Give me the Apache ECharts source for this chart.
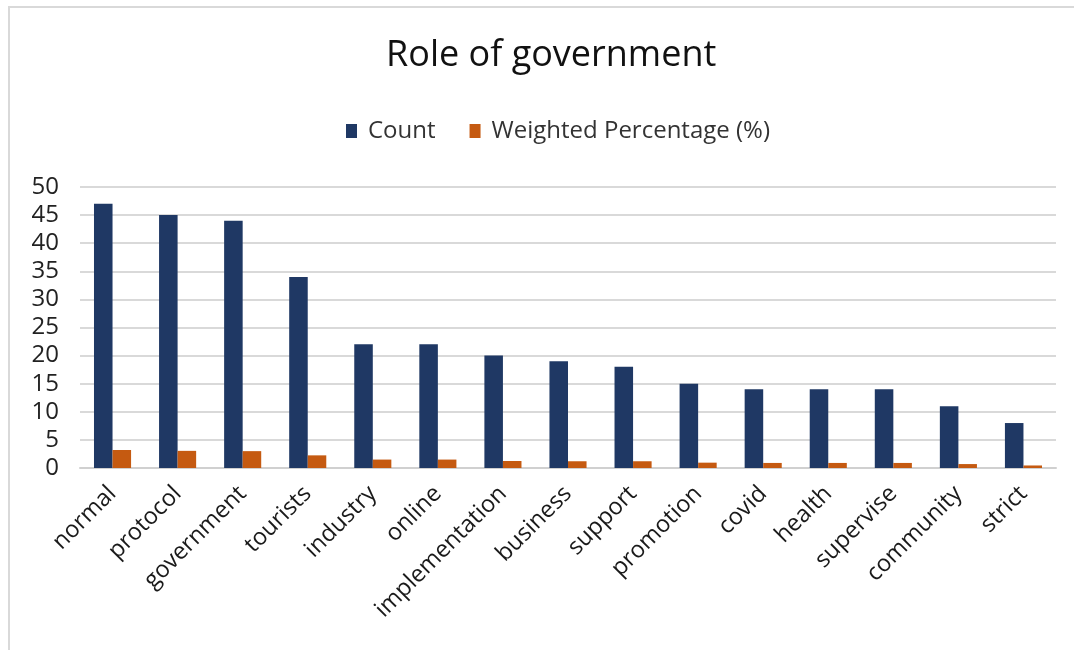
<!DOCTYPE html>
<html>
<head>
<meta charset="utf-8">
<script src="https://cdn.jsdelivr.net/npm/echarts@6/dist/echarts.min.js"></script>
<style>
html,body{margin:0;padding:0;background:#fff;}
#chart{width:1074px;height:650px;position:absolute;left:0;top:0;}
#frame{position:absolute;left:8px;top:6px;width:1080px;height:660px;border-left:2px solid #d9d9d9;border-top:2px solid #d9d9d9;pointer-events:none;}
</style>
</head>
<body>
<div id="chart"></div>
<div id="frame"></div>
<script>
const categories = ["normal","protocol","government","tourists","industry","online","implementation","business","support","promotion","covid","health","supervise","community","strict"];
const countValues = [47,45,44,34,22,22,20,19,18,15,14,14,14,11,8];
const weightedValues = [3.2,3.05,3.0,2.25,1.5,1.5,1.25,1.2,1.2,0.95,0.9,0.9,0.9,0.7,0.45];
const yTicks = {min:0,max:50,interval:5};

const FONT = '"Open Sans", "Noto Sans", sans-serif';
const chart = echarts.init(document.getElementById('chart'));
chart.setOption({
  animation:false,
  backgroundColor:'#fff',
  title:{
    text:'Role of government',
    left:381,
    top:33,
    textStyle:{fontFamily:FONT,fontSize:36,fontWeight:'normal',color:'#111'}
  },
  legend:{
    top:114,
    left:341,
    itemWidth:11,
    itemHeight:14,
    itemGap:34,
    icon:'rect',
    textStyle:{fontFamily:FONT,fontSize:24,color:'#333',padding:[0,0,0,6]},
    data:['Count','Weighted Percentage (%)']
  },
  grid:{left:80,right:18,top:187,bottom:182,containLabel:false},
  xAxis:{
    type:'category',
    data:categories,
    axisLine:{lineStyle:{color:'#d0d0d0',width:2}},
    axisTick:{show:false},
    axisLabel:{rotate:45,interval:0,fontFamily:FONT,fontSize:23.5,color:'#1a1a1a',margin:22}
  },
  yAxis:{
    type:'value',
    min:yTicks.min,max:yTicks.max,interval:yTicks.interval,
    axisLine:{show:false},
    axisTick:{show:false},
    splitLine:{lineStyle:{color:'#d9d9d9',width:2}},
    axisLabel:{fontFamily:FONT,fontSize:24,color:'#222',margin:21}
  },
  series:[
    {name:'Count',type:'bar',data:countValues,barWidth:'28.5%',barGap:'0%',
     itemStyle:{color:'#1f3864'}},
    {name:'Weighted Percentage (%)',type:'bar',data:weightedValues,barWidth:'28.5%',
     itemStyle:{color:'#c55a11'}}
  ]
});
</script>
</body>
</html>
